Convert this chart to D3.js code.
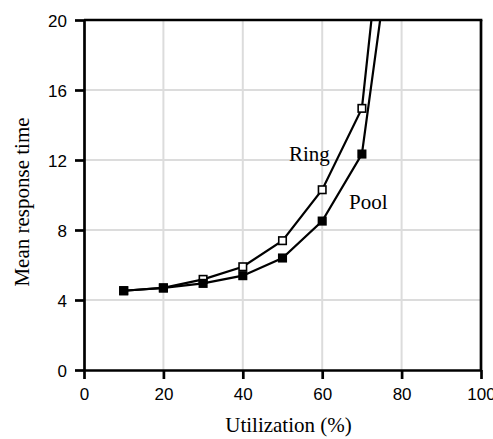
<!DOCTYPE html>
<html>
<head>
<meta charset="utf-8">
<script src="https://cdn.jsdelivr.net/npm/d3@7"></script>
<style>
  html, body { margin: 0; padding: 0; background: #fff; }
  svg { display: block; }
</style>
</head>
<body>
<svg id="chart" width="493" height="439"></svg>
<script>
// Mean response time versus utilization for the two schemes
const utilization = [10, 20, 30, 40, 50, 60, 70, 80];
const ringTimes   = [4.53, 4.69, 5.18, 5.90, 7.39, 10.30, 14.95, 36.0];
const poolTimes   = [4.53, 4.69, 4.95, 5.39, 6.40, 8.51, 12.34, 29.0];
const xTicks = [0, 20, 40, 60, 80, 100];
const yTicks = [0, 4, 8, 12, 16, 20];

const svg = d3.select("#chart");
const plotLeft = 84, plotRight = 481, plotTop = 20, plotBottom = 370;

const x = d3.scaleLinear().domain([0, 100]).range([plotLeft, plotRight]);
const y = d3.scaleLinear().domain([0, 20]).range([plotBottom, plotTop]);

const axisW = 2.7;

// grid
const grid = svg.append("g").attr("stroke", "#dcdcdc").attr("stroke-width", 2);
grid.selectAll("line.gx").data(xTicks.filter(d => d > 0 && d < 100)).join("line")
  .attr("class", "gx")
  .attr("x1", d => x(d)).attr("x2", d => x(d)).attr("y1", plotTop).attr("y2", plotBottom);
grid.selectAll("line.gy").data(yTicks.filter(d => d > 0 && d < 20)).join("line")
  .attr("class", "gy")
  .attr("x1", plotLeft).attr("x2", plotRight).attr("y1", d => y(d)).attr("y2", d => y(d));

// axes
const yAxis = svg.append("g").attr("transform", `translate(${plotLeft},0)`)
  .call(d3.axisLeft(y).tickValues(yTicks).tickSize(9).tickSizeOuter(0).tickPadding(8));
const xAxis = svg.append("g").attr("transform", `translate(0,${plotBottom})`)
  .call(d3.axisBottom(x).tickValues(xTicks).tickSize(9).tickSizeOuter(0).tickPadding(9));
[xAxis, yAxis].forEach(g => {
  g.selectAll("path, line").attr("stroke", "#000").attr("stroke-width", axisW);
  g.selectAll("text").attr("font-family", "'Liberation Sans', Arial, sans-serif")
    .attr("font-size", 17).attr("fill", "#000");
});
yAxis.selectAll("text").attr("dy", "0.36em");

// top and right borders
svg.append("line").attr("x1", plotLeft).attr("x2", plotRight + axisW / 2)
  .attr("y1", plotTop).attr("y2", plotTop).attr("stroke", "#000").attr("stroke-width", axisW);
svg.append("line").attr("x1", plotRight).attr("x2", plotRight)
  .attr("y1", plotTop).attr("y2", plotBottom).attr("stroke", "#000").attr("stroke-width", axisW);

// series, clipped to the plot area
svg.append("clipPath").attr("id", "plot-clip").append("rect")
  .attr("x", plotLeft).attr("y", plotTop + 1)
  .attr("width", plotRight - plotLeft).attr("height", plotBottom - plotTop);
const plot = svg.append("g").attr("clip-path", "url(#plot-clip)");

const line = d3.line().x((d, i) => x(utilization[i])).y(d => y(d));
const series = [
  { name: "Ring", values: ringTimes, fill: "#fff" },
  { name: "Pool", values: poolTimes, fill: "#000" }
];
const ms = 7.5;
series.forEach(s => {
  plot.append("path").attr("d", line(s.values))
    .attr("fill", "none").attr("stroke", "#000").attr("stroke-width", 2.2)
    .attr("stroke-linejoin", "miter");
  plot.selectAll(null).data(s.values).join("rect")
    .attr("x", (d, i) => x(utilization[i]) - ms / 2)
    .attr("y", d => y(d) - ms / 2)
    .attr("width", ms).attr("height", ms)
    .attr("fill", s.fill).attr("stroke", "#000").attr("stroke-width", 1.6);
});

// series labels
const serif = "'Liberation Serif', 'Times New Roman', serif";
svg.append("text").attr("x", 289).attr("y", 160.5).text("Ring")
  .attr("font-family", serif).attr("font-size", 21);
svg.append("text").attr("x", 349).attr("y", 208.5).text("Pool")
  .attr("font-family", serif).attr("font-size", 21);

// axis titles
svg.append("text").attr("x", 288.5).attr("y", 432).attr("text-anchor", "middle")
  .attr("font-family", serif).attr("font-size", 21).text("Utilization (%)");
svg.append("text").attr("transform", "translate(29,202) rotate(-90)")
  .attr("text-anchor", "middle").attr("font-family", serif).attr("font-size", 21)
  .text("Mean response time");
</script>
</body>
</html>
